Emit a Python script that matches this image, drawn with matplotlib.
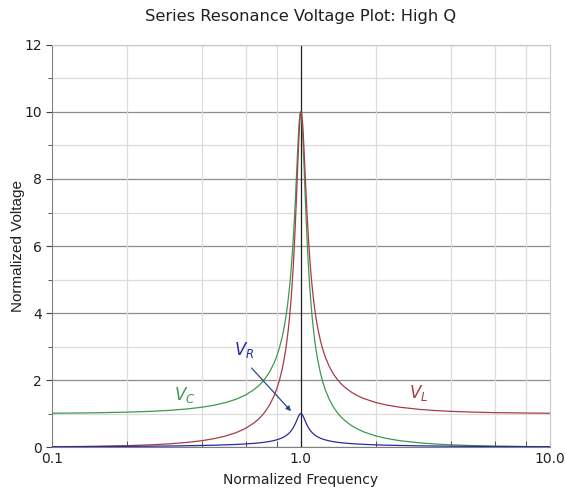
import matplotlib
matplotlib.use('Agg')
import matplotlib.pyplot as plt
from matplotlib.ticker import FixedLocator, NullFormatter

# Values (normalized frequency, normalized voltages)
freq = [0.1, 0.12, 0.15, 0.2, 0.25, 0.3, 0.35, 0.4, 0.45, 0.5,
        0.55, 0.6, 0.65, 0.68, 0.7, 0.72, 0.75, 0.78, 0.8, 0.82,
        0.84, 0.85, 0.86, 0.87, 0.88, 0.89, 0.9, 0.91, 0.92, 0.93,
        0.94, 0.95, 0.96, 0.97, 0.98, 0.985, 0.99, 0.995, 1.0, 1.005,
        1.01, 1.015, 1.02, 1.03, 1.04, 1.05, 1.06, 1.07, 1.08, 1.09,
        1.1, 1.11, 1.12, 1.13, 1.14, 1.15, 1.17, 1.2, 1.22, 1.25,
        1.3, 1.35, 1.4, 1.45, 1.5, 1.6, 1.7, 1.8, 2.0, 2.2,
        2.5, 3.0, 3.5, 4.0, 5.0, 6.0, 8.0, 10.0]
v_r = [0.010, 0.012, 0.015, 0.021, 0.027, 0.033, 0.040, 0.048, 0.056, 0.067,
       0.079, 0.093, 0.112, 0.125, 0.136, 0.148, 0.169, 0.195, 0.217, 0.243,
       0.274, 0.293, 0.314, 0.337, 0.363, 0.394, 0.428, 0.468, 0.514, 0.567,
       0.628, 0.698, 0.775, 0.854, 0.927, 0.957, 0.980, 0.995, 1.000, 0.995,
       0.981, 0.958, 0.930, 0.861, 0.787, 0.716, 0.651, 0.594, 0.544, 0.501,
       0.464, 0.431, 0.403, 0.378, 0.356, 0.336, 0.302, 0.263, 0.242, 0.217,
       0.185, 0.162, 0.144, 0.130, 0.119, 0.102, 0.090, 0.080, 0.067, 0.057,
       0.048, 0.037, 0.031, 0.027, 0.021, 0.017, 0.013, 0.010]
v_l = [0.010, 0.015, 0.023, 0.042, 0.067, 0.099, 0.140, 0.190, 0.254, 0.333,
       0.432, 0.560, 0.727, 0.853, 0.952, 1.065, 1.267, 1.524, 1.735, 1.991,
       2.305, 2.490, 2.697, 2.931, 3.198, 3.503, 3.853, 4.258, 4.727, 5.273,
       5.906, 6.630, 7.436, 8.284, 9.086, 9.429, 9.706, 9.900, 10.000, 10.000,
       9.906, 9.728, 9.483, 8.866, 8.182, 7.514, 6.901, 6.356, 5.880, 5.465,
       5.104, 4.789, 4.513, 4.270, 4.054, 3.863, 3.537, 3.157, 2.957, 2.712,
       2.407, 2.187, 2.020, 1.891, 1.787, 1.632, 1.523, 1.442, 1.330, 1.258,
       1.189, 1.124, 1.088, 1.066, 1.042, 1.028, 1.016, 1.010]
v_c = [1.010, 1.015, 1.023, 1.042, 1.066, 1.098, 1.139, 1.189, 1.252, 1.330,
       1.429, 1.556, 1.721, 1.845, 1.943, 2.054, 2.253, 2.504, 2.712, 2.961,
       3.266, 3.446, 3.647, 3.873, 4.130, 4.422, 4.757, 5.141, 5.585, 6.097,
       6.684, 7.346, 8.068, 8.804, 9.461, 9.718, 9.903, 10.000, 10.000, 9.901,
       9.711, 9.442, 9.115, 8.357, 7.565, 6.815, 6.142, 5.552, 5.041, 4.600,
       4.218, 3.887, 3.598, 3.344, 3.120, 2.921, 2.584, 2.193, 1.986, 1.735,
       1.424, 1.200, 1.031, 0.899, 0.794, 0.638, 0.527, 0.445, 0.333, 0.260,
       0.190, 0.125, 0.089, 0.067, 0.042, 0.029, 0.016, 0.010]

x_major = [0.1, 1.0, 10.0]
x_labels = ['0.1', '1.0', '10.0']
x_minor = [0.2, 0.4, 0.6, 0.8, 2, 4, 6, 8]
y_major = [0, 2, 4, 6, 8, 10, 12]
y_minor = [1, 3, 5, 7, 9, 11]

green = '#3c9a4c'
red = '#a83a4a'
blue = '#2a2aa0'

fig = plt.figure(figsize=(5.65, 4.94), dpi=100)
ax = fig.add_axes([0.092, 0.095, 0.881, 0.814])

ax.set_xscale('log')
ax.set_xlim(0.1, 10)
ax.set_ylim(0, 12)

# grid
for y in y_major:
    ax.axhline(y, color='#8c8c8c', lw=0.9, zorder=1)
for y in y_minor:
    ax.axhline(y, color='#dcdcdc', lw=0.9, zorder=1)
for x in x_minor:
    ax.axvline(x, color='#dcdcdc', lw=0.9, zorder=1)
ax.axvline(1.0, color='#202020', lw=0.9, zorder=2)

ax.plot(freq, v_c, color=green, lw=0.9, zorder=3)
ax.plot(freq, v_l, color=red, lw=0.9, zorder=3)
ax.plot(freq, v_r, color=blue, lw=0.9, zorder=3)

ax.xaxis.set_major_locator(FixedLocator(x_major))
ax.xaxis.set_minor_locator(FixedLocator(x_minor))
ax.xaxis.set_minor_formatter(NullFormatter())
ax.set_xticklabels(x_labels)
ax.set_yticks(y_major)
ax.set_yticks(y_minor, minor=True)

ax.tick_params(axis='both', which='both', labelsize=10, colors='#404040', labelcolor='#202020')
ax.tick_params(axis='x', which='both', direction='in', length=4)
ax.tick_params(axis='y', which='major', direction='out', length=4)
ax.tick_params(axis='y', which='minor', direction='out', length=3)

for side in ['left', 'bottom']:
    ax.spines[side].set_color('#808080')
for side in ['top', 'right']:
    ax.spines[side].set_color('#c8c8c8')

ax.set_title('Series Resonance Voltage Plot: High Q', fontsize=11.7, pad=17, color='#202020')
ax.set_xlabel('Normalized Frequency', fontsize=10, labelpad=5, color='#202020')
ax.set_ylabel('Normalized Voltage', fontsize=11, family='Liberation Sans', color='#202020')
ax.yaxis.set_label_coords(-0.054, 0.5)

ax.text(0.342, 1.55, '$V_C$', color=green, fontsize=12, ha='center', va='center')
ax.text(2.98, 1.61, '$V_L$', color=red, fontsize=12, ha='center', va='center')
ax.text(0.59, 2.9, '$V_R$', color=blue, fontsize=12, ha='center', va='center')
ax.annotate('', xy=(0.929, 1.01), xytext=(0.623, 2.42),
            arrowprops=dict(arrowstyle='-|>', color='#2a4a8a', lw=0.9, mutation_scale=7))

fig.savefig('out.png', dpi=100)
